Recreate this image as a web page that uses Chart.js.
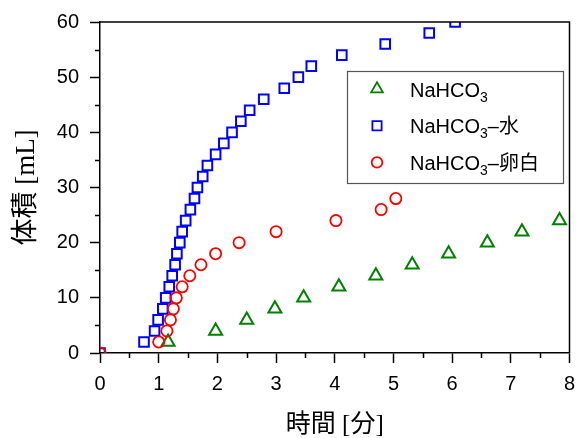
<!DOCTYPE html>
<html><head><meta charset="utf-8">
<script src="https://cdn.jsdelivr.net/npm/chart.js@4.4.1/dist/chart.umd.min.js"></script>
<style>html,body{margin:0;padding:0;background:#fff;}</style>
</head><body>
<canvas id="c" width="579" height="438"></canvas>
<script>
// ---- data ----
const seriesLabels = ['NaHCO₃', 'NaHCO₃–水', 'NaHCO₃–卵白'];
const legendParts = [['NaHCO', '3', ''], ['NaHCO', '3', '–水'], ['NaHCO', '3', '–卵白']];

const naX = [1.16, 1.97, 2.50, 2.98, 3.47, 4.07, 4.70, 5.32, 5.94, 6.60, 7.19, 7.83];
const naY = [2, 4, 6, 8, 10, 12, 14, 16, 18, 20, 22, 24];

const waterX = [0, 0.75, 0.93, 0.99, 1.07, 1.12, 1.18, 1.23, 1.28, 1.31, 1.36, 1.40, 1.46, 1.54, 1.61,
                1.66, 1.75, 1.83, 1.97, 2.11, 2.25, 2.40, 2.55, 2.79, 3.14, 3.38, 3.60, 4.12, 4.86, 5.61, 6.05];
const waterY = [0, 2, 4, 6, 8, 10, 12, 14, 16, 18, 20, 22, 24, 26, 28,
                30, 32, 34, 36, 38, 40, 42, 44, 46, 48, 50, 52, 54, 56, 58, 60];

const eggX = [0, 1.00, 1.14, 1.20, 1.25, 1.30, 1.40, 1.53, 1.72, 1.97, 2.37, 3.00, 4.02, 4.79, 5.04];
const eggY = [0, 2, 4, 6, 8, 10, 12, 14, 16, 18, 20, 22, 24, 26, 28];

const xTickValues = [0, 1, 2, 3, 4, 5, 6, 7, 8];
const yTickValues = [0, 10, 20, 30, 40, 50, 60];
const xTitle = '時間 [分]';
const yTitle = '体積 [mL]';

// ---- build ----
const pts = (xs, ys) => xs.map((x, i) => ({x: x, y: ys[i]}));
const FONT = "'Liberation Sans', Arial, 'Noto Sans CJK JP', sans-serif";
const TFONT = "'Liberation Serif', 'Times New Roman', 'Noto Sans CJK JP', serif";

const minorTicks = {
  id: 'minorTicks',
  afterDraw(chart) {
    const {ctx, chartArea: a, scales: {x, y}} = chart;
    ctx.save();
    ctx.strokeStyle = '#000';
    ctx.lineWidth = 1.5;
    ctx.beginPath();
    for (let i = 0; i < xTickValues.length - 1; i++) {
      const px = Math.round(x.getPixelForValue((xTickValues[i] + xTickValues[i + 1]) / 2)) + 0.5;
      ctx.moveTo(px, a.bottom); ctx.lineTo(px, a.bottom + 5);
    }
    for (let i = 0; i < yTickValues.length - 1; i++) {
      const py = Math.round(y.getPixelForValue((yTickValues[i] + yTickValues[i + 1]) / 2)) + 0.5;
      ctx.moveTo(a.left - 5, py); ctx.lineTo(a.left, py);
    }
    ctx.stroke();
    ctx.beginPath();
    ctx.moveTo(a.left, a.top); ctx.lineTo(a.right, a.top); ctx.lineTo(a.right, a.bottom);
    ctx.stroke();
    ctx.restore();
  }
};

const boxLegend = {
  id: 'boxLegend',
  afterDraw(chart) {
    const {ctx} = chart;
    const bx = 347, by = 71, bw = 216, bh = 112;
    ctx.save();
    ctx.fillStyle = '#fff';
    ctx.fillRect(bx, by, bw, bh);
    ctx.strokeStyle = '#555';
    ctx.lineWidth = 1.2;
    ctx.strokeRect(bx + 0.5, by + 0.5, bw, bh);
    [0, 1, 2].forEach((di, row) => {
      const ds = chart.data.datasets[di];
      const cy = by + 18 + row * 36.7;
      ctx.save();
      ctx.strokeStyle = ds.borderColor;
      ctx.fillStyle = 'rgba(0,0,0,0)';
      ctx.lineWidth = 1.8;
      Chart.helpers.drawPoint(ctx, {pointStyle: ds.pointStyle, radius: ds.legendRadius, rotation: 0, borderWidth: 1.8}, bx + 30, cy);
      ctx.restore();
      const parts = legendParts[di];
      let tx = bx + 63;
      const base = cy + 7.5;
      ctx.fillStyle = '#000';
      ctx.textBaseline = 'alphabetic';
      ctx.textAlign = 'left';
      ctx.font = '20px ' + FONT;
      ctx.fillText(parts[0], tx, base);
      tx += ctx.measureText(parts[0]).width;
      ctx.font = '14px ' + FONT;
      ctx.fillText(parts[1], tx, base + 5);
      tx += ctx.measureText(parts[1]).width;
      ctx.font = '20px ' + FONT;
      ctx.fillText(parts[2], tx, base);
    });
    ctx.restore();
  }
};

new Chart(document.getElementById('c'), {
  type: 'scatter',
  data: {
    datasets: [
      {label: seriesLabels[0], data: pts(naX, naY), pointStyle: 'triangle', pointRadius: 7.5, legendRadius: 6.8,
       borderColor: '#008000', backgroundColor: 'rgba(0,0,0,0)', pointBorderWidth: 2, order: 1},
      {label: seriesLabels[1], data: pts(waterX, waterY), pointStyle: 'rect', pointRadius: 6.8, legendRadius: 6.5,
       borderColor: '#0000ff', backgroundColor: 'rgba(0,0,0,0)', pointBorderWidth: 2, order: 2},
      {label: seriesLabels[2], data: pts(eggX, eggY), pointStyle: 'circle', pointRadius: 5.6, legendRadius: 5.3,
       borderColor: '#ff0000', backgroundColor: 'rgba(0,0,0,0)', pointBorderWidth: 1.8, order: 0}
    ]
  },
  options: {
    responsive: false,
    animation: false,
    devicePixelRatio: 1,
    layout: {padding: {top: 22, right: 1.5, left: 0, bottom: 0}},
    plugins: {legend: {display: false}, tooltip: {enabled: false}},
    scales: {
      x: {
        type: 'linear', min: 0, max: 8,
        afterFit(s) { s.height = 85; s.paddingRight = 0; s.paddingLeft = 0; },
        afterBuildTicks(s) { s.ticks = xTickValues.map(v => ({value: v})); },
        ticks: {color: '#000', font: {family: FONT, size: 20}, padding: 9, maxRotation: 0},
        grid: {drawOnChartArea: false, drawTicks: true, tickLength: 10, tickColor: '#000', tickWidth: 1.5},
        border: {color: '#000', width: 1.5},
        title: {display: true, text: xTitle, color: '#000', font: {family: TFONT, size: 25}, padding: {top: 0, bottom: -2}}
      },
      y: {
        type: 'linear', min: 0, max: 60,
        afterFit(s) { s.width = 100; s.paddingTop = 0; s.paddingBottom = 0; },
        afterBuildTicks(s) { s.ticks = yTickValues.map(v => ({value: v})); },
        ticks: {color: '#000', font: {family: FONT, size: 20}, padding: 11},
        grid: {drawOnChartArea: false, drawTicks: true, tickLength: 10, tickColor: '#000', tickWidth: 1.5},
        border: {color: '#000', width: 1.5},
        title: {display: true, text: yTitle, color: '#000', font: {family: TFONT, size: 27}, padding: {top: 11, bottom: 0}}
      }
    }
  },
  plugins: [minorTicks, boxLegend]
});
</script>
</body></html>
